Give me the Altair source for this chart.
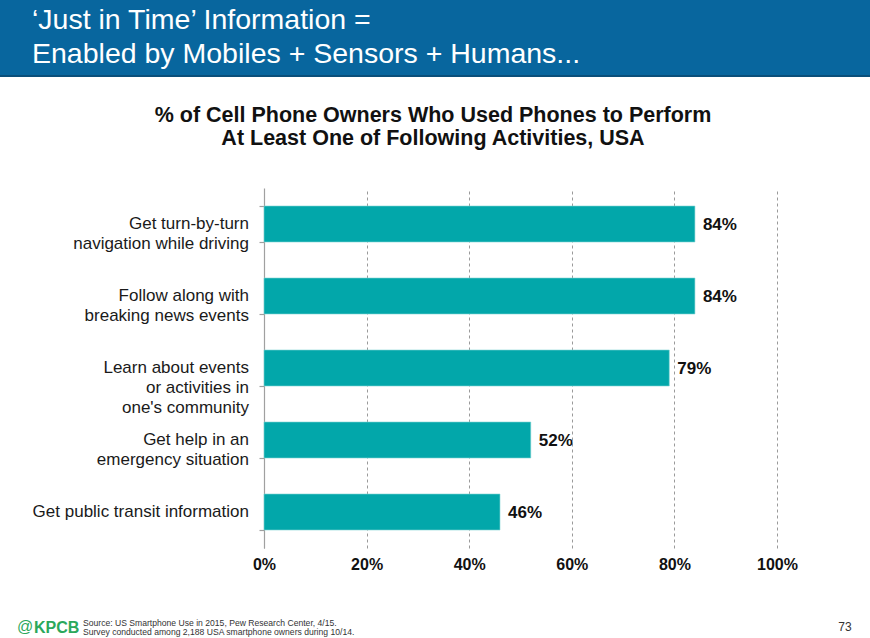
import altair as alt
import pandas as pd

categories = [
    "Get turn-by-turn\nnavigation while driving",
    "Follow along with\nbreaking news events",
    "Learn about events\nor activities in\none's community",
    "Get help in an\nemergency situation",
    "Get public transit information",
]
values = [84, 84, 79, 52, 46]
x_ticks = [0, 20, 40, 60, 80, 100]

header_lines = ["\u2018Just in Time\u2019 Information =", "Enabled by Mobiles + Sensors + Humans..."]
title_lines = ["% of Cell Phone Owners Who Used Phones to Perform",
               "At Least One of Following Activities, USA"]
source_lines = ["Source: US Smartphone Use in 2015, Pew Research Center, 4/15.",
                "Survey conducted among 2,188 USA smartphone owners during 10/14."]
page_number = "73"
logo_at = "@"
logo_name = "KPCB"

FONT = "Liberation Sans"
BAR = "#02A7AA"
BLUE = "#08669E"
GREEN = "#2BA85C"

df = pd.DataFrame({"cat": categories, "val": values})
df["lbl"] = df["val"].astype(str) + "%"

W, H = 513, 360
L, T = 264, 188

yenc = alt.Y("cat:N", sort=categories, title=None,
             scale=alt.Scale(paddingInner=0.5, paddingOuter=0.25),
             axis=alt.Axis(labels=False, tickBand="extent", tickSize=5,
                           tickColor="#a0a0a0", domainColor="#a0a0a0",
                           domainWidth=1.2, tickWidth=1.2))
xenc = alt.X("val:Q", title=None,
             scale=alt.Scale(domain=[0, 100], nice=False),
             axis=alt.Axis(values=x_ticks, labelExpr="datum.value + '%'",
                           grid=True, gridDash=[3, 3], gridColor="#9a9a9a",
                           domain=False, ticks=False, labelPadding=8, labelFlush=False,
                           labelFont=FONT, labelFontSize=16, labelFontWeight="bold",
                           labelColor="#111111"))

bars = alt.Chart(df).mark_bar(color=BAR, stroke="#7fd3d4", strokeWidth=0.6).encode(x=xenc, y=yenc)

vlabels = alt.Chart(df).mark_text(align="left", baseline="middle", dx=8, dy=1,
                                  font=FONT, fontSize=17, fontWeight="bold",
                                  color="#111111").encode(x="val:Q", y=alt.Y("cat:N", sort=categories), text="lbl:N")

ylabels = alt.Chart(df).mark_text(align="right", baseline="middle", lineBreak="\n",
                                  lineHeight=20, font=FONT, fontSize=17,
                                  color="#1a1a1a").encode(
    x=alt.value(-15), y=alt.Y("cat:N", sort=categories), text="cat:N")

one = pd.DataFrame({"k": [0]})

header_rect = alt.Chart(one).mark_rect(color=BLUE).encode(
    x=alt.value(-L), x2=alt.value(870 - L), y=alt.value(-T), y2=alt.value(76 - T))
header_line = alt.Chart(one).mark_rule(color="#0a4f7a", strokeWidth=2).encode(
    x=alt.value(-L), x2=alt.value(870 - L), y=alt.value(76 - T))

layers = [header_rect, header_line]
for i, t in enumerate(header_lines):
    layers.append(alt.Chart(one).mark_text(align="left", baseline="alphabetic",
                                           font=FONT, fontSize=28.5, color="white").encode(
        x=alt.value(32 - L), y=alt.value(29 + 34 * i - T), text=alt.value(t)))
for i, t in enumerate(title_lines):
    layers.append(alt.Chart(one).mark_text(align="center", baseline="alphabetic",
                                           font=FONT, fontSize=21.5, fontWeight="bold",
                                           color="#111111").encode(
        x=alt.value(433 - L), y=alt.value(122 + 23 * i - T), text=alt.value(t)))
for i, t in enumerate(source_lines):
    layers.append(alt.Chart(one).mark_text(align="left", baseline="middle",
                                           font=FONT, fontSize=8.6, color="#333333").encode(
        x=alt.value(83 - L), y=alt.value(623 + 9 * i - T), text=alt.value(t)))
layers.append(alt.Chart(one).mark_text(align="left", baseline="alphabetic",
                                       font=FONT, fontSize=16, color=GREEN).encode(
    x=alt.value(17 - L), y=alt.value(632 - T), text=alt.value(logo_at)))
layers.append(alt.Chart(one).mark_text(align="left", baseline="alphabetic",
                                       font=FONT, fontSize=16, fontWeight="bold", color=GREEN).encode(
    x=alt.value(34 - L), y=alt.value(633 - T), text=alt.value(logo_name)))
layers.append(alt.Chart(one).mark_text(align="center", baseline="middle",
                                       font=FONT, fontSize=12, color="#333333").encode(
    x=alt.value(845 - L), y=alt.value(627 - T), text=alt.value(page_number)))

chart = alt.layer(*layers, bars, vlabels, ylabels).properties(
    width=W, height=H,
    autosize=alt.AutoSizeParams(type="none"),
    padding={"left": L, "top": T, "right": 870 - L - W, "bottom": 638 - T - H},
    background="white",
).configure_view(stroke=None)

chart.save("out.html", embed_options={"renderer": "svg", "actions": False})
